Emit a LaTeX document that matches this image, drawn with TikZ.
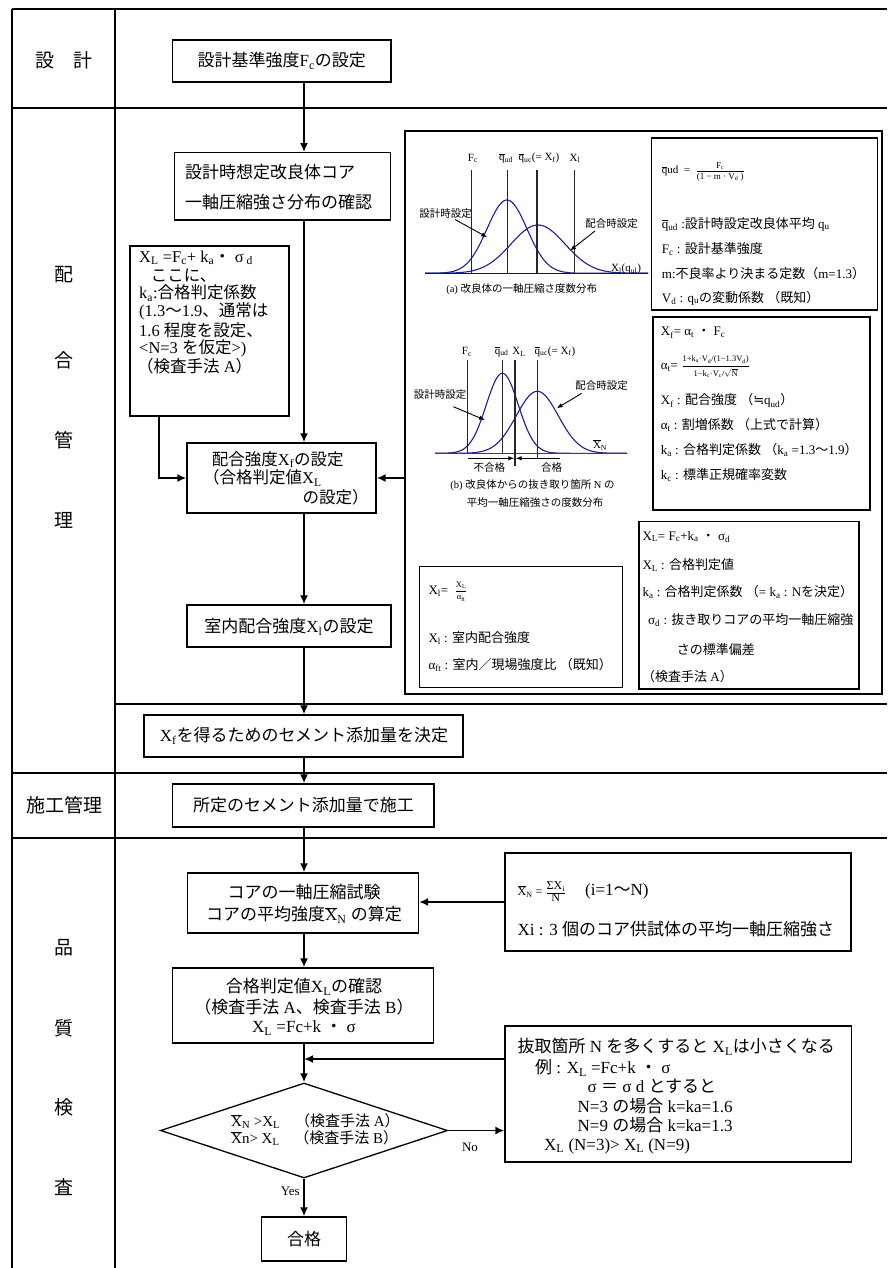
\documentclass[tikz,border=0pt]{standalone}
\usepackage{fontspec}
\setmainfont{Liberation Serif}
\newfontfamily\cjk{Noto Sans CJK JP}
\newfontfamily\djv{DejaVu Sans}
\usetikzlibrary{arrows.meta,shapes.geometric}
\definecolor{curveblue}{RGB}{30,30,150}
\XeTeXinterchartokenstate=1
\chardef\CJKcls=7
\newcount\cjkc
\def\setcjkrange#1#2{\cjkc=#1\relax
  \loop\XeTeXcharclass\cjkc=\CJKcls
  \ifnum\cjkc<#2\relax\advance\cjkc by 1\relax\repeat}
\setcjkrange{"2E80}{"9FFF}
\setcjkrange{"FF00}{"FFEF}
\XeTeXinterchartoks 0 \CJKcls = {\cjk}
\XeTeXinterchartoks 4095 \CJKcls = {\cjk}
\XeTeXinterchartoks \CJKcls 0 = {\rmfamily}
\XeTeXinterchartoks \CJKcls 4095 = {\rmfamily}
\newcommand{\sbs}[1]{\textsubscript{#1}}
\newcommand{\ovl}[1]{$\overline{\mbox{#1}}$}
\newcommand{\myfrac}[4][1.6pt]{$\frac{\raisebox{#1}{\fontsize{#2}{#2}\selectfont #3}}{\raisebox{-#1}{\fontsize{#2}{#2}\selectfont #4}}$}
\begin{document}
\begin{tikzpicture}[x=1pt,y=-1pt]
\tikzset{
 frame/.style={line width=1.1pt},
 box/.style={draw, line width=1.3pt, inner sep=0pt},
 ibox/.style={draw, line width=1.1pt, inner sep=0pt},
 flow/.style={line width=1.8pt, -{Latex[length=9pt,width=8pt]}},
 garr/.style={line width=0.9pt, -{Latex[length=6pt,width=4.5pt]}},
 vline/.style={line width=1.1pt, black!85},
 curve/.style={line width=1.1pt, color=curveblue},
 tbig/.style={font=\fontsize{17}{19}\selectfont, inner sep=0pt},
 tleft/.style={font=\fontsize{16.5}{18}\selectfont, inner sep=0pt, anchor=west},
 tlab/.style={font=\fontsize{19}{21}\selectfont, inner sep=0pt},
 tmid/.style={font=\fontsize{13}{15}\selectfont, inner sep=0pt, anchor=west},
 tdia/.style={font=\fontsize{15}{17}\selectfont, inner sep=0pt, anchor=west},
 tsm/.style={font=\fontsize{10.5}{12}\selectfont, inner sep=0pt},
 tgl/.style={font=\fontsize{11}{12}\selectfont, inner sep=0pt},
}
\useasboundingbox (0,0) rectangle (887,1268);
\fill[white] (0,0) rectangle (887,1268);
% ---------- frame ----------
\draw[frame] (12,9) -- (887,9);
\draw[frame] (12,9) -- (12,1268);
\draw[frame] (115,9) -- (115,1268);
\draw[frame] (12,108) -- (887,108);
\draw[line width=1.5pt] (115,704) -- (887,704);
\draw[frame] (12,773) -- (887,773);
\draw[frame] (12,838) -- (887,838);
% ---------- row labels ----------
\node[tlab] (r1) at (64,60) {設　計};
\node[tlab] (r2a) at (64,275) {配};
\node[tlab] (r2b) at (64,360) {合};
\node[tlab] (r2c) at (64,440) {管};
\node[tlab] (r2d) at (64,520) {理};
\node[tlab] (r3) at (64,805) {施工管理};
\node[tlab] (r4a) at (64,948) {品};
\node[tlab] (r4b) at (64,1028) {質};
\node[tlab] (r4c) at (64,1107) {検};
\node[tlab] (r4d) at (64,1187) {査};
\coordinate (col) at (304,0);
\coordinate (lbx) at (159,0);
% ---------- main boxes ----------
\node[box, minimum width=218.5pt, minimum height=42pt] (b1) at (281.75,61) {};
\node[tbig] (b1t) at (281.75,61) {設計基準強度F\sbs{c}の設定};
\node[box, minimum width=216.4pt, minimum height=67.3pt] (b2) at (282.5,186.4) {};
\node[tbig, anchor=west] (b2t1) at (185,171.7) {設計時想定改良体コア};
\node[tbig, anchor=west] (b2t2) at (185,201.7) {一軸圧縮強さ分布の確認};
\node[box, minimum width=159pt, minimum height=170pt] (lb) at (209.5,331) {};
\node[tleft] (lb1) at (139,258) {X\sbs{L} =F\sbs{c}+ k\sbs{a}・ σ\sbs{ d}};
\node[tleft] (lb2) at (150.7,275.7) {ここに、};
\node[tleft] (lb3) at (139,293) {k\sbs{a}:合格判定係数};
\node[tleft] (lb4) at (139,311.7) {(1.3〜1.9、通常は};
\node[tleft] (lb5) at (139,330) {1.6 程度を設定、};
\node[tleft] (lb6) at (139,348.3) {<N=3 を仮定>)};
\node[tleft] (lb7) at (137,366.7) {（検査手法 A）};
\node[box, minimum width=189pt, minimum height=70pt] (b3) at (281.5,478) {};
\node[tleft] (b3t1) at (211.7,459.5) {配合強度X\sbs{f}の設定};
\node[tleft] (b3t2) at (203,478) {（合格判定値X\sbs{L}};
\node[tleft] (b3t3) at (302.5,497) {の設定）};
\node[box, minimum width=204pt, minimum height=42pt] (b4) at (289,626) {};
\node[tbig] (b4t) at (289,627) {室内配合強度X\sbs{l}の設定};
\node[box, minimum width=319pt, minimum height=42pt] (b5) at (303.5,736) {};
\node[tbig] (b5t) at (304,736) {X\sbs{f}を得るためのセメント添加量を決定};
\node[box, minimum width=261.5pt, minimum height=43pt] (b6) at (303.25,805.5) {};
\node[tbig] (b6t) at (303.5,805.5) {所定のセメント添加量で施工};
\node[box, minimum width=231pt, minimum height=60pt] (b7) at (303,903) {};
\node[tbig] (b7t1) at (304,891.7) {コアの一軸圧縮試験};
\node[tbig] (b7t2) at (304,915) {コアの平均強度\ovl{X}\sbs{N} の算定};
\node[box, minimum width=346pt, minimum height=98pt] (rb1) at (678,902) {};
\node[font=\fontsize{12}{13}\selectfont, inner sep=0pt, anchor=west] (rb1f) at (517.5,891.7) {\ovl{X}\sbs{N} = \myfrac{12}{ΣX\sbs{i}}{N}};
\node[tbig, anchor=west] (rb1i) at (585,891.7) {(i=1〜N)};
\node[tbig, anchor=west] (rb1t) at (517.5,929.3) {Xi : 3 個のコア供試体の平均一軸圧縮強さ};
\node[box, minimum width=261pt, minimum height=75pt] (b8) at (303,1005.5) {};
\node[tbig] (b8t1) at (304,986.7) {合格判定値X\sbs{L}の確認};
\node[tbig] (b8t2) at (304,1006.7) {（検査手法 A、検査手法 B）};
\node[tbig] (b8t3) at (304,1028.3) {X\sbs{L} =Fc+k ・ σ};
\node[box, minimum width=346.5pt, minimum height=136pt] (rb2) at (678.25,1094) {};
\node[tbig, anchor=west] (rb2t1) at (517.5,1046.7) {抜取箇所 N を多くすると X\sbs{L}は小さくなる};
\node[tbig, anchor=west] (rb2t2) at (535,1067.7) {例 : X\sbs{L} =Fc+k ・ σ};
\node[tbig, anchor=west] (rb2t3) at (587.5,1086) {σ ＝ σ d とすると};
\node[tbig, anchor=west] (rb2t4) at (577.5,1106) {N=3 の場合 k=ka=1.6};
\node[tbig, anchor=west] (rb2t5) at (577.5,1125) {N=9 の場合 k=ka=1.3};
\node[tbig, anchor=west] (rb2t6) at (544,1146) {X\sbs{L} (N=3)> X\sbs{L} (N=9)};
\node[draw, diamond, line width=1.3pt, inner sep=0pt, minimum width=287pt, minimum height=95pt] (dia) at (304,1130.5) {};
\node[tdia] (dt1) at (231,1120.7) {\ovl{X}\sbs{N} >X\sbs{L}　（検査手法 A）};
\node[tdia] (dt2) at (231,1138.3) {\ovl{X}n> X\sbs{L}　（検査手法 B）};
\node[box, minimum width=85pt, minimum height=44pt] (pass) at (304,1239) {};
\node[tbig] (passt) at (304,1239) {合格};
\node[font=\fontsize{13}{14}\selectfont, inner sep=0pt] (no) at (470,1147) {No};
\node[font=\fontsize{13}{14}\selectfont, inner sep=0pt, anchor=east] (yes) at (300,1191) {Yes};
% ---------- big info box ----------
\node[ibox, minimum width=477pt, minimum height=563pt] (big) at (643.5,412.5) {};
\node[ibox, minimum width=226pt, minimum height=172pt] (fb1) at (764.5,224) {};
\node[ibox, minimum width=217pt, minimum height=193pt] (fb2) at (761.5,413.5) {};
\node[ibox, minimum width=220pt, minimum height=167.3pt] (fb3) at (749,605.35) {};
\node[ibox, minimum width=203.4pt, minimum height=121pt] (xlb) at (521,627.2) {};
% fb1 text
\node[font=\fontsize{11}{12}\selectfont, inner sep=0pt, anchor=west] (f1a) at (661.7,171.7) {\ovl{q}ud\ \ =\ \ \myfrac{9}{F\sbs{c}}{(1 − m\ · V\sbs{d} )}};
\node[tmid] (f1b) at (661.7,224) {\ovl{q}\sbs{ud}\ :設計時設定改良体平均 q\sbs{u}};
\node[tmid] (f1c) at (661.7,249) {F\sbs{c} : 設計基準強度};
\node[tmid] (f1d) at (661.7,274) {m:不良率より決まる定数（m=1.3）};
\node[tmid] (f1e) at (661.7,298) {V\sbs{d} : q\sbs{u}の変動係数 （既知）};
% fb2 text
\node[tmid] (f2a) at (660.7,332.7) {X\sbs{f}= α\sbs{t} ・ F\sbs{c}};
\node[tmid] (f2b) at (660.7,366.7) {α\sbs{t}= \myfrac[2.8pt]{8.5}{1+k\sbs{a}·V\sbs{d}/(1−1.3V\sbs{d})}{1−k\sbs{c}·V\sbs{c}/$\sqrt{\mbox{N}}$}};
\node[tmid] (f2c) at (660.7,400.7) {X\sbs{f} : 配合強度 （\mbox{\djv ≒}q\sbs{ud}）};
\node[tmid] (f2d) at (660.7,425) {α\sbs{t} : 割増係数 （上式で計算）};
\node[tmid] (f2e) at (660.7,450) {k\sbs{a} : 合格判定係数 （k\sbs{a} =1.3〜1.9）};
\node[tmid] (f2f) at (660.7,475) {k\sbs{c} : 標準正規確率変数};
% fb3 text
\node[tmid] (f3a) at (642.3,536.7) {X\sbs{L}= F\sbs{c}+k\sbs{a} ・ σ\sbs{d}};
\node[tmid] (f3b) at (642.3,565) {X\sbs{L} : 合格判定値};
\node[tmid] (f3c) at (642.3,591.7) {k\sbs{a} : 合格判定係数 （= k\sbs{a} : Nを決定）};
\node[tmid] (f3d) at (648,620) {σ\sbs{d} : 抜き取りコアの平均一軸圧縮強};
\node[tmid] (f3e) at (676.7,650) {さの標準偏差};
\node[tmid] (f3f) at (642,676.7) {（検査手法 A）};
% xl box text
\node[tmid] (x1) at (428.3,591.7) {X\sbs{l}=\ \ \myfrac{8.5}{X\sbs{L}}{α\sbs{ft}}};
\node[tmid] (x2) at (428.3,638.3) {X\sbs{l} : 室内配合強度};
\node[tmid] (x3) at (428.3,665) {α\sbs{ft} : 室内／現場強度比 （既知）};
% ---------- graph (a) ----------
\draw[curve] plot[domain=425:648, samples=140, smooth] (\x, {273.3-73.3*exp(-0.5*((\x-507)/20)^2)});
\draw[curve] plot[domain=425:648, samples=140, smooth] (\x, {273.3-48.3*exp(-0.5*((\x-538)/27)^2)});
\draw[line width=1.2pt, curveblue!60!black] (425,273.3) -- (648,273.3);
\draw[vline] (471.7,170) -- (471.7,273.3);
\draw[vline] (507.3,170) -- (507.3,273.3);
\draw[vline] (537,170) -- (537,273.3);
\draw[vline] (574.7,170) -- (574.7,273.3);
\node[tgl] (ga1) at (473,158.3) {F\sbs{c}};
\node[tgl] (ga2) at (506,158.3) {\ovl{q}\sbs{ud}};
\node[tgl] (ga3) at (539,158.3) {\ovl{q}\sbs{uc}(= X\sbs{f})};
\node[tgl] (ga4) at (575,158.3) {X\sbs{l}};
\node[tsm] (gal1) at (445.7,213.3) {設計時設定};
\node[tsm] (gal2) at (611.7,224) {配合時設定};
\coordinate (ga1s) at (455,219.5);
\coordinate (ga1e) at (487.3,237.3);
\coordinate (ga2s) at (595,231);
\coordinate (ga2e) at (570,250.7);
\draw[garr] (ga1s) -- (ga1e);
\draw[garr] (ga2s) -- (ga2e);
\node[tgl] (gax) at (626,269) {X\sbs{l}(q\sbs{ul})};
\node[tsm] (gacap) at (521.7,289.3) {(a) 改良体の一軸圧縮さ度数分布};
% ---------- graph (b) ----------
\draw[curve] plot[domain=435:627, samples=140, smooth] (\x, {453.3-80*exp(-0.5*((\x-502.3)/16)^2)});
\draw[curve] plot[domain=435:627, samples=140, smooth] (\x, {453.3-62*exp(-0.5*((\x-537.3)/21)^2)});
\draw[line width=1.4pt, black!75] (435,453.3) -- (627,453.3);
\draw[vline] (467.7,360) -- (467.7,453.3);
\draw[vline] (502.3,360) -- (502.3,453.3);
\draw[vline] (515,360) -- (515,466);
\draw[vline] (537.3,360) -- (537.3,458);
\node[tgl] (gb1) at (467,351.7) {F\sbs{c}};
\node[tgl] (gb2) at (501.7,351.7) {\ovl{q}\sbs{ud}};
\node[tgl] (gb3) at (519,351.7) {X\sbs{L}};
\node[tgl] (gb4) at (555,351.7) {\ovl{q}\sbs{uc}(= X\sbs{f})};
\node[tsm] (gbl1) at (440,395) {設計時設定};
\node[tsm] (gbl2) at (601.7,386) {配合時設定};
\coordinate (gb1s) at (453.3,406.7);
\coordinate (gb1e) at (485,420);
\coordinate (gb2s) at (581.7,393.3);
\coordinate (gb2e) at (556.7,408.3);
\draw[garr] (gb1s) -- (gb1e);
\draw[garr] (gb2s) -- (gb2e);
\node[tgl] (gbx) at (600,445) {\ovl{X}\sbs{N}};
\coordinate (gbf1) at (468.3,458.3);
\coordinate (gbf2) at (514.3,458.3);
\coordinate (gbp1) at (560,458.3);
\coordinate (gbp2) at (515.7,458.3);
\draw[garr] (gbf1) -- (gbf2);
\draw[garr] (gbp1) -- (gbp2);
\node[tsm] (gbng) at (489.3,467.5) {不合格};
\node[tsm] (gbok) at (551.7,467.5) {合格};
\node[tsm] (gbc1) at (532.5,485) {(b) 改良体からの抜き取り箇所 N の};
\node[tsm] (gbc2) at (535,502.7) {平均一軸圧縮強さの度数分布};
% ---------- connectors ----------
\draw[flow] (b1.south -| col) -- (b2.north -| col);
\draw[flow] (b2.south -| col) -- (b3.north -| col);
\draw[flow] (lb.south -| lbx) |- (b3.west);
\draw[flow] (big.west |- b3.east) -- (b3.east);
\draw[flow] (b3.south -| col) -- (b4.north -| col);
\draw[flow] (b4.south -| col) -- (b5.north -| col);
\draw[flow] (b5.south -| col) -- (b6.north -| col);
\draw[flow] (b6.south -| col) -- (b7.north -| col);
\draw[flow] (rb1.west) -- (rb1.west -| b7.east);
\draw[flow] (b7.south -| col) -- (b8.north -| col);
\draw[flow] (b8.south -| col) -- (dia.north);
\coordinate (join) at (304,1059);
\draw[flow] (rb2.west |- join) -- (join);
\draw[flow] (dia.east) -- (dia.east -| rb2.west);
\draw[flow] (dia.south) -- (pass.north);
\end{tikzpicture}
\end{document}
